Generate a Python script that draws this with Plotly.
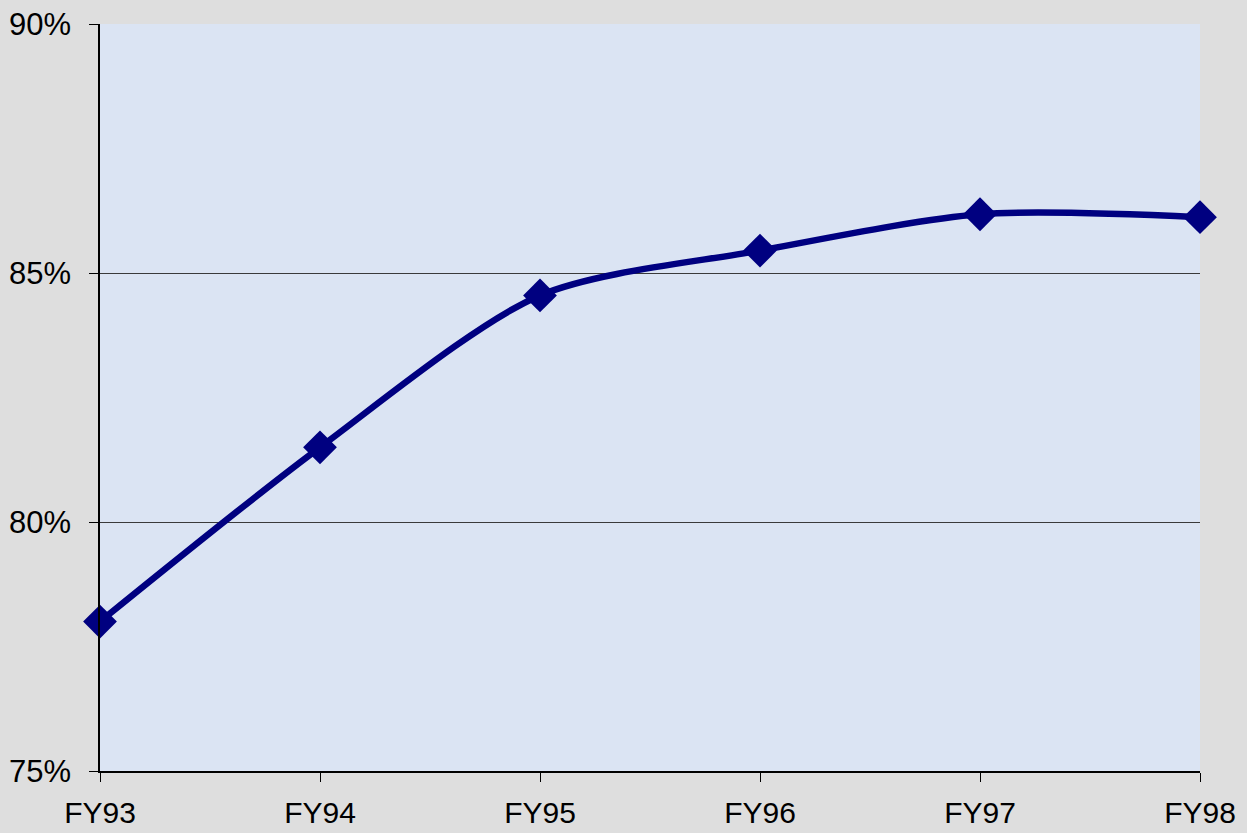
import plotly.graph_objects as go

categories = ["FY93", "FY94", "FY95", "FY96", "FY97", "FY98"]
values = [0.780, 0.815, 0.8455, 0.8545, 0.8618, 0.8612]
y_ticks = [0.75, 0.80, 0.85, 0.90]
y_tick_labels = ["75%", "80%", "85%", "90%"]

fig = go.Figure()
fig.add_trace(go.Scatter(
    x=list(range(len(categories))),
    y=values,
    mode="lines+markers",
    line=dict(color="#000080", width=6.5, shape="spline", smoothing=0.8),
    marker=dict(symbol="diamond", size=26, color="#000080"),
    cliponaxis=False,
    showlegend=False,
))

fig.update_layout(
    width=1247, height=833,
    margin=dict(l=100, r=47, t=24, b=62, autoexpand=False),
    paper_bgcolor="#dedede",
    plot_bgcolor="#dbe4f3",
    font=dict(family="Liberation Sans, Arial, sans-serif", size=30, color="#000000"),
)
fig.update_xaxes(
    range=[0, len(categories) - 1],
    tickvals=list(range(len(categories))),
    ticktext=categories,
    showgrid=False, zeroline=False, automargin=False,
    showline=True, linecolor="#000000", linewidth=1.5,
    ticks="outside", ticklen=9, tickcolor="#000000",
    ticklabelstandoff=5,
    tickfont=dict(size=30),
)
fig.update_yaxes(
    range=[0.75, 0.90],
    tickvals=y_ticks, ticktext=y_tick_labels,
    showgrid=True, gridcolor="#3a3a3a", gridwidth=1,
    zeroline=False, automargin=False,
    showline=True, linecolor="#000000", linewidth=1.5,
    ticks="outside", ticklen=9, tickcolor="#000000",
    ticklabelstandoff=12,
    tickfont=dict(size=31),
)
fig.write_html(
    "out.html",
    config={"displayModeBar": False},
    post_script="document.body.style.margin='0';document.body.style.background='#dedede';",
)
